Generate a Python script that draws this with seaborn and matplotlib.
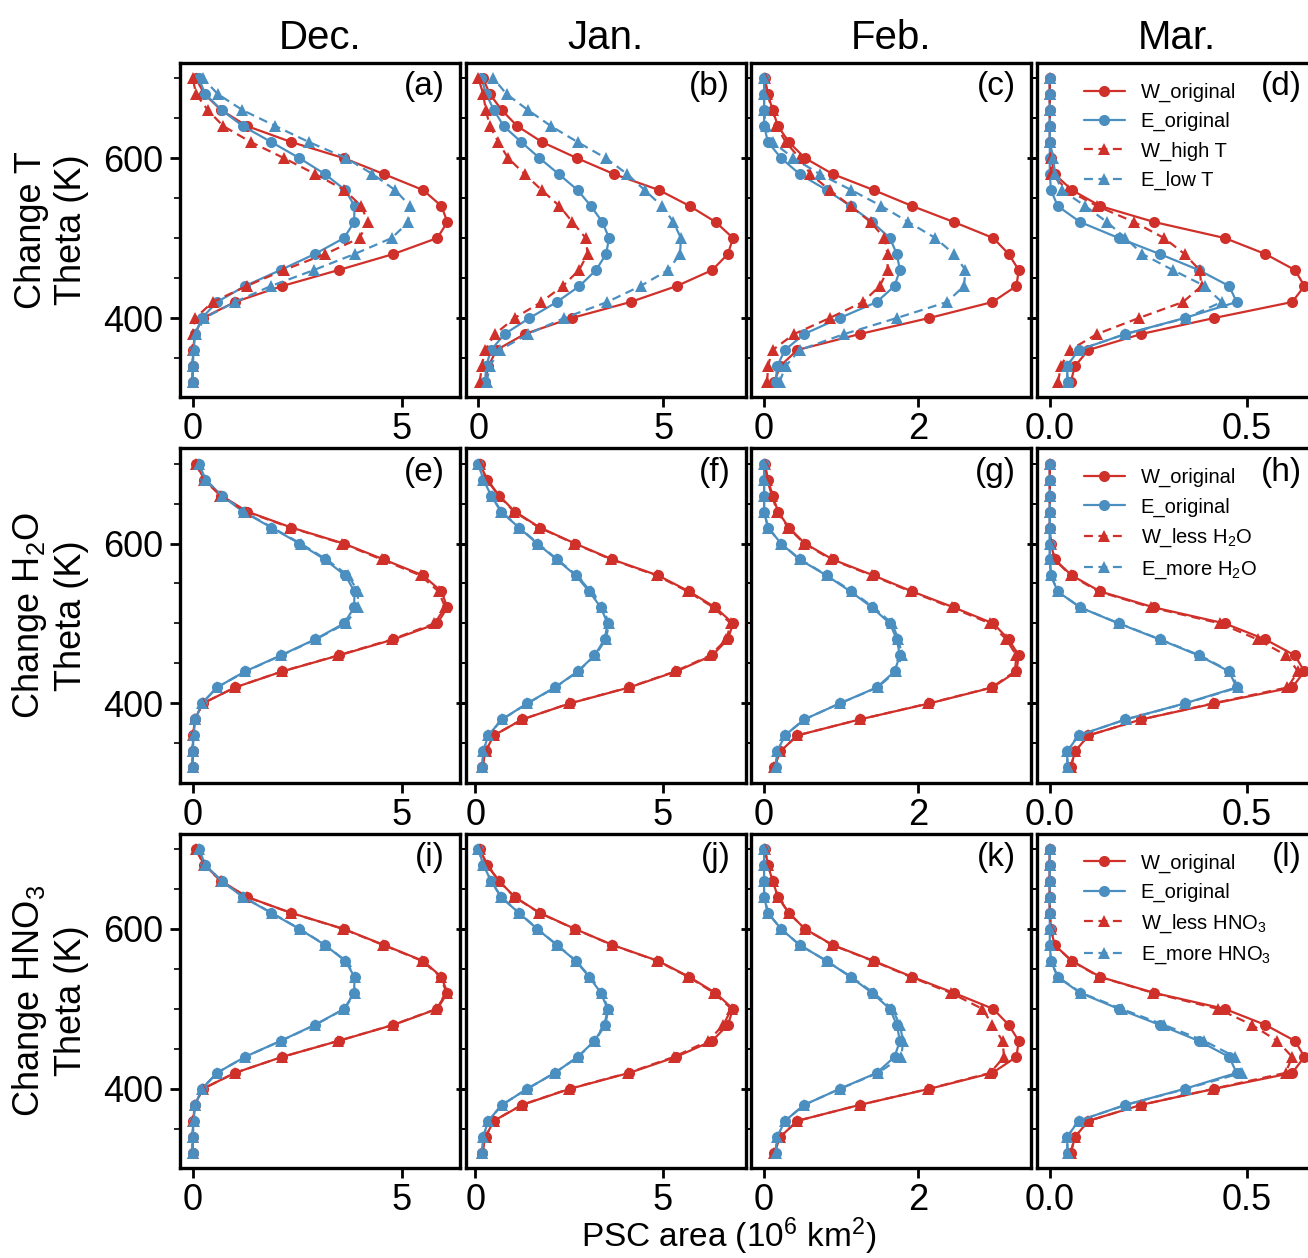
import numpy as np
import pandas as pd
import matplotlib
matplotlib.use("Agg")
import matplotlib.pyplot as plt
import seaborn as sns
from matplotlib.ticker import MultipleLocator, FormatStrFormatter

sns.set_theme(style="ticks")
plt.rcParams["font.family"] = ["Liberation Sans", "DejaVu Sans"]
plt.rcParams["mathtext.default"] = "regular"
for k in ["text.color", "axes.labelcolor", "xtick.color", "ytick.color", "axes.edgecolor"]:
    plt.rcParams[k] = "black"

# ---------------- data ----------------
THETA = [700, 680, 660, 640, 620, 600, 580, 560, 540, 520,
         500, 480, 460, 440, 420, 400, 380, 360, 340, 320]
MONTHS = ["Dec.", "Jan.", "Feb.", "Mar."]
ROW_LABELS = ["Change T\nTheta (K)", "Change H$_2$O\nTheta (K)", "Change HNO$_3$\nTheta (K)"]
ROW_SERIES = [
    ["W_original", "E_original", "W_high T", "E_low T"],
    ["W_original", "E_original", "W_less H$_2$O", "E_more H$_2$O"],
    ["W_original", "E_original", "W_less HNO$_3$", "E_more HNO$_3$"],
]

# December
W_orig_dec = [0.07, 0.28, 0.68, 1.30, 2.36, 3.61, 4.57, 5.51, 5.95, 6.09, 5.85, 4.80, 3.49, 2.14, 1.01, 0.24, 0.05, 0.01, 0.0, 0.0]
E_orig_dec = [0.14, 0.30, 0.69, 1.20, 1.88, 2.55, 3.16, 3.65, 3.87, 3.86, 3.62, 2.92, 2.10, 1.25, 0.58, 0.22, 0.06, 0.02, 0.0, 0.0]
W_highT_dec = [0.0, 0.08, 0.36, 0.73, 1.39, 2.18, 2.93, 3.63, 4.03, 4.19, 3.99, 3.17, 2.18, 1.29, 0.48, 0.06, 0.0, 0.0, 0.0, 0.0]
E_lowT_dec = [0.24, 0.60, 1.19, 1.98, 2.78, 3.67, 4.30, 4.84, 5.20, 5.16, 4.76, 3.87, 2.90, 1.87, 1.01, 0.28, 0.08, 0.02, 0.0, 0.0]
W_lessH2O_dec = [0.07, 0.26, 0.66, 1.27, 2.33, 3.58, 4.52, 5.45, 5.88, 6.04, 5.78, 4.76, 3.47, 2.13, 1.01, 0.24, 0.05, 0.01, 0.0, 0.0]
E_moreH2O_dec = [0.15, 0.30, 0.70, 1.22, 1.90, 2.58, 3.20, 3.72, 3.95, 3.95, 3.66, 2.94, 2.12, 1.26, 0.58, 0.22, 0.06, 0.02, 0.0, 0.0]
W_lessHNO3_dec = [0.07, 0.27, 0.67, 1.29, 2.35, 3.60, 4.55, 5.49, 5.93, 6.07, 5.83, 4.79, 3.48, 2.14, 1.01, 0.24, 0.05, 0.01, 0.0, 0.0]
E_moreHNO3_dec = [0.15, 0.30, 0.69, 1.21, 1.89, 2.56, 3.17, 3.66, 3.89, 3.88, 3.63, 2.93, 2.11, 1.25, 0.58, 0.22, 0.06, 0.02, 0.0, 0.0]

# January
W_orig_jan = [0.12, 0.31, 0.63, 1.05, 1.72, 2.66, 3.66, 4.88, 5.71, 6.41, 6.88, 6.74, 6.32, 5.36, 4.11, 2.52, 1.25, 0.49, 0.27, 0.18]
E_orig_jan = [0.08, 0.21, 0.42, 0.68, 1.16, 1.65, 2.17, 2.68, 3.04, 3.35, 3.53, 3.45, 3.18, 2.73, 2.12, 1.38, 0.71, 0.34, 0.21, 0.18]
W_highT_jan = [0.0, 0.13, 0.20, 0.31, 0.54, 0.80, 1.25, 1.71, 2.19, 2.54, 2.90, 2.95, 2.72, 2.28, 1.70, 0.98, 0.45, 0.18, 0.09, 0.04]
E_lowT_jan = [0.40, 0.76, 1.34, 1.96, 2.68, 3.44, 4.02, 4.49, 4.96, 5.27, 5.47, 5.45, 5.13, 4.38, 3.48, 2.32, 1.34, 0.58, 0.31, 0.22]
W_lessH2O_jan = [0.12, 0.30, 0.62, 1.03, 1.70, 2.64, 3.63, 4.84, 5.67, 6.36, 6.82, 6.70, 6.27, 5.33, 4.09, 2.51, 1.25, 0.49, 0.27, 0.18]
E_moreH2O_jan = [0.08, 0.21, 0.43, 0.69, 1.17, 1.67, 2.19, 2.71, 3.08, 3.39, 3.57, 3.48, 3.20, 2.74, 2.13, 1.39, 0.71, 0.34, 0.21, 0.18]
W_lessHNO3_jan = [0.12, 0.31, 0.63, 1.04, 1.71, 2.65, 3.65, 4.86, 5.69, 6.37, 6.84, 6.62, 6.22, 5.30, 4.08, 2.50, 1.24, 0.49, 0.27, 0.18]
E_moreHNO3_jan = [0.08, 0.21, 0.42, 0.69, 1.17, 1.66, 2.18, 2.69, 3.06, 3.37, 3.55, 3.47, 3.19, 2.74, 2.12, 1.38, 0.71, 0.34, 0.21, 0.18]

# February
W_orig_feb = [0.01, 0.05, 0.11, 0.18, 0.32, 0.53, 0.89, 1.42, 1.92, 2.46, 2.97, 3.17, 3.30, 3.27, 2.96, 2.14, 1.24, 0.43, 0.21, 0.13]
E_orig_feb = [0.0, 0.0, 0.0, 0.0, 0.05, 0.22, 0.46, 0.81, 1.12, 1.40, 1.63, 1.72, 1.76, 1.69, 1.46, 0.98, 0.52, 0.27, 0.17, 0.15]
W_highT_feb = [0.01, 0.04, 0.11, 0.16, 0.28, 0.46, 0.60, 0.85, 1.12, 1.38, 1.56, 1.60, 1.60, 1.50, 1.28, 0.85, 0.39, 0.11, 0.05, 0.04]
E_lowT_feb = [0.0, 0.0, 0.0, 0.02, 0.11, 0.38, 0.72, 1.13, 1.52, 1.87, 2.22, 2.46, 2.61, 2.59, 2.37, 1.72, 1.04, 0.46, 0.28, 0.20]
W_lessH2O_feb = [0.01, 0.04, 0.10, 0.17, 0.31, 0.52, 0.87, 1.40, 1.90, 2.43, 2.93, 3.14, 3.27, 3.25, 2.95, 2.13, 1.24, 0.43, 0.21, 0.13]
E_moreH2O_feb = [0.0, 0.0, 0.0, 0.0, 0.05, 0.22, 0.47, 0.82, 1.14, 1.42, 1.66, 1.74, 1.79, 1.71, 1.47, 0.98, 0.52, 0.27, 0.17, 0.15]
W_lessHNO3_feb = [0.01, 0.05, 0.11, 0.18, 0.32, 0.53, 0.88, 1.41, 1.90, 2.42, 2.83, 2.96, 3.09, 3.11, 2.93, 2.13, 1.24, 0.43, 0.21, 0.13]
E_moreHNO3_feb = [0.0, 0.0, 0.0, 0.0, 0.05, 0.22, 0.46, 0.81, 1.13, 1.42, 1.66, 1.76, 1.80, 1.78, 1.48, 0.98, 0.52, 0.27, 0.17, 0.15]

# March
W_orig_mar = [0.0, 0.0, 0.0, 0.0, 0.0, 0.003, 0.012, 0.056, 0.128, 0.265, 0.444, 0.547, 0.622, 0.646, 0.615, 0.417, 0.232, 0.098, 0.064, 0.053]
E_orig_mar = [0.0, 0.0, 0.0, 0.0, 0.0, 0.0, 0.0, 0.003, 0.020, 0.077, 0.175, 0.279, 0.378, 0.455, 0.474, 0.342, 0.192, 0.073, 0.044, 0.045]
W_highT_mar = [0.0, 0.0, 0.0, 0.0, 0.0, 0.002, 0.004, 0.045, 0.120, 0.214, 0.290, 0.342, 0.380, 0.385, 0.338, 0.226, 0.120, 0.051, 0.028, 0.021]
E_lowT_mar = [0.0, 0.0, 0.0, 0.0, 0.0, 0.009, 0.013, 0.030, 0.090, 0.145, 0.192, 0.235, 0.312, 0.393, 0.436, 0.346, 0.192, 0.073, 0.043, 0.045]
W_lessH2O_mar = [0.0, 0.0, 0.0, 0.0, 0.0, 0.003, 0.012, 0.053, 0.124, 0.258, 0.433, 0.527, 0.600, 0.630, 0.603, 0.413, 0.232, 0.098, 0.064, 0.053]
E_moreH2O_mar = [0.0, 0.0, 0.0, 0.0, 0.0, 0.0, 0.0, 0.003, 0.020, 0.078, 0.176, 0.281, 0.381, 0.458, 0.478, 0.344, 0.193, 0.073, 0.044, 0.045]
W_lessHNO3_mar = [0.0, 0.0, 0.0, 0.0, 0.0, 0.003, 0.012, 0.055, 0.126, 0.262, 0.427, 0.513, 0.577, 0.615, 0.598, 0.414, 0.232, 0.098, 0.064, 0.053]
E_moreHNO3_mar = [0.0, 0.0, 0.0, 0.0, 0.0, 0.0, 0.0, 0.003, 0.020, 0.080, 0.182, 0.290, 0.392, 0.470, 0.487, 0.345, 0.193, 0.073, 0.044, 0.045]

ORIG = {
    "Dec.": (W_orig_dec, E_orig_dec),
    "Jan.": (W_orig_jan, E_orig_jan),
    "Feb.": (W_orig_feb, E_orig_feb),
    "Mar.": (W_orig_mar, E_orig_mar),
}
MODS = [
    {"Dec.": (W_highT_dec, E_lowT_dec), "Jan.": (W_highT_jan, E_lowT_jan),
     "Feb.": (W_highT_feb, E_lowT_feb), "Mar.": (W_highT_mar, E_lowT_mar)},
    {"Dec.": (W_lessH2O_dec, E_moreH2O_dec), "Jan.": (W_lessH2O_jan, E_moreH2O_jan),
     "Feb.": (W_lessH2O_feb, E_moreH2O_feb), "Mar.": (W_lessH2O_mar, E_moreH2O_mar)},
    {"Dec.": (W_lessHNO3_dec, E_moreHNO3_dec), "Jan.": (W_lessHNO3_jan, E_moreHNO3_jan),
     "Feb.": (W_lessHNO3_feb, E_moreHNO3_feb), "Mar.": (W_lessHNO3_mar, E_moreHNO3_mar)},
]

rows = []
for r in range(3):
    names = ROW_SERIES[r]
    for m in MONTHS:
        vals = [ORIG[m][0], ORIG[m][1], MODS[r][m][0], MODS[r][m][1]]
        for name, v in zip(names, vals):
            for th, a in zip(THETA, v):
                rows.append(dict(row=r, month=m, series=name, theta=th, area=a))
df = pd.DataFrame(rows)

RED = "#d0302a"
BLUE = "#4b8fc1"

# ---------------- figure ----------------
fig = plt.figure(figsize=(13.08, 12.58), dpi=100)
gs = fig.add_gridspec(3, 4, left=0.1376, right=1.007, top=0.95, bottom=0.0715,
                      wspace=0.02, hspace=0.153)
letters = "abcdefghijkl"
xstep = {"Dec.": 5, "Jan.": 5, "Feb.": 2, "Mar.": 0.5}

for r in range(3):
    names = ROW_SERIES[r]
    pal = {names[0]: RED, names[1]: BLUE, names[2]: RED, names[3]: BLUE}
    mk = {names[0]: "o", names[1]: "o", names[2]: "^", names[3]: "^"}
    ds = {names[0]: "", names[1]: "", names[2]: (4, 2.5), names[3]: (4, 2.5)}
    for c, m in enumerate(MONTHS):
        ax = fig.add_subplot(gs[r, c])
        sub = df[(df.row == r) & (df.month == m)]
        sns.lineplot(data=sub, x="area", y="theta", hue="series", style="series",
                     hue_order=names, style_order=names, palette=pal,
                     markers=mk, dashes=ds, orient="y", estimator=None,
                     ax=ax, legend=(c == 3), linewidth=1.6, markersize=8,
                     markeredgewidth=0)
        ax.set_xlabel("")
        ax.set_ylabel("")
        for s in ax.spines.values():
            s.set_linewidth(2.4)
            s.set_color("black")
        ax.yaxis.set_major_locator(MultipleLocator(200))
        ax.yaxis.set_minor_locator(MultipleLocator(50))
        ax.xaxis.set_major_locator(MultipleLocator(xstep[m]))
        if m == "Mar.":
            ax.xaxis.set_major_formatter(FormatStrFormatter("%.1f"))
        ax.tick_params(axis="both", which="major", direction="out", length=7,
                       width=2, labelsize=26, color="black", labelcolor="black", pad=5)
        ax.tick_params(axis="x", which="major", pad=4)
        ax.tick_params(axis="y", which="minor", direction="out", length=4,
                       width=1.2, color="black")
        ax.tick_params(axis="y", which="both", left=True, right=True,
                       labelleft=(c == 0))
        if r == 0:
            ax.set_title(m, fontsize=29, pad=10, color="black")
        if c == 0:
            ax.set_ylabel(ROW_LABELS[r], fontsize=26, labelpad=10, color="black")
        ax.text(0.945, 0.975, f"({letters[r * 4 + c]})", transform=ax.transAxes,
                ha="right", va="top", fontsize=24, color="black")
        if c == 3:
            sns.move_legend(ax, "upper left", bbox_to_anchor=(0.14, 0.965),
                            frameon=False, fontsize=14.5, title=None,
                            borderaxespad=0, handlelength=2.0)
            for t in ax.get_legend().get_texts():
                t.set_color("black")

fig.text(0.557, 0.009, "PSC area (10$^{6}$ km$^{2}$)", ha="center", va="baseline",
         fontsize=24, color="black")

fig.savefig("out.png", dpi=100)
